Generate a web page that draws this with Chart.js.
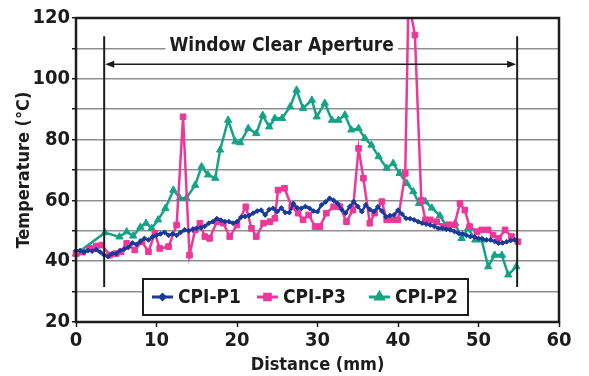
<!DOCTYPE html>
<html>
<head>
<meta charset="utf-8">
<script src="https://cdn.jsdelivr.net/npm/chart.js@4.4.0/dist/chart.umd.min.js"></script>
<style>
  html, body { margin: 0; padding: 0; background: #fff; }
</style>
</head>
<body>
<canvas id="chart" width="589" height="376"></canvas>
<script>
// CPI-P1: dense trace, read every 0.5 mm
const p1Distance = [
  0, 0.5, 1, 1.5, 2, 2.5, 3, 3.5, 4, 4.5, 5, 5.5, 6, 6.5, 7, 7.5, 8, 8.5, 9, 9.5,
  10, 10.5, 11, 11.5, 12, 12.5, 13, 13.5, 14, 14.5, 15, 15.5, 16, 16.5, 17, 17.5, 18, 18.5, 19, 19.5,
  20, 20.5, 21, 21.5, 22, 22.5, 23, 23.5, 24, 24.5, 25, 25.5, 26, 26.5, 27, 27.5, 28, 28.5, 29, 29.5,
  30, 30.5, 31, 31.5, 32, 32.5, 33, 33.5, 34, 34.5, 35, 35.5, 36, 36.5, 37, 37.5, 38, 38.5, 39, 39.5,
  40, 40.5, 41, 41.5, 42, 42.5, 43, 43.5, 44, 44.5, 45, 45.5, 46, 46.5, 47, 47.5, 48, 48.5, 49, 49.5,
  50, 50.5, 51, 51.5, 52, 52.5, 53, 53.5, 54, 54.5,
];
const p1Temp = [
  43.5, 43.5, 43, 43.5, 43.3, 43.8, 43, 42, 41.5, 42.5, 42.5, 43.5, 44, 44.5, 46, 45.5, 46.5, 47.5, 47, 48,
  48.5, 49, 49.5, 48.5, 49, 48.5, 49.5, 50.3, 50, 50.5, 50.8, 51, 51.5, 52.5, 53, 54, 53.5, 53, 53, 52.5,
  53, 54.5, 54.7, 55, 55.8, 56.5, 56.8, 55.2, 57, 57.4, 56.3, 57.5, 56, 56, 59, 57.5, 57.4, 58, 57.4, 56.5,
  56.3, 58.5, 59.5, 60.7, 60, 59, 57, 55.8, 58, 59.6, 58, 56.3, 58.5, 57, 56.3, 57.9, 56.5, 54.6, 55, 55.2,
  56.8, 55.5, 54.1, 54, 53.6, 53, 52.5, 52.2, 51.9, 51.5, 50.8, 50.8, 50.5, 50.3, 49.8, 49.2, 49, 48.5, 48.1, 48,
  47.5, 47.3, 47, 47, 46.5, 45.9, 46, 46.4, 46.8, 47,
];

// CPI-P3
const p3Distance = [
  0, 0.8, 1.7, 2.5, 3.2, 4.2, 5.0, 5.6, 6.3, 7.3, 8.2, 9.0, 9.8, 10.4, 11.5, 12.5, 13.3, 14.1, 14.8, 15.4,
  16.0, 16.6, 17.5, 18.3, 19.1, 20.0, 21.1, 21.8, 22.4, 23.3, 24.1, 24.7, 25.1, 25.9, 26.8, 27.6, 28.2, 28.9, 29.7, 30.3,
  31.1, 32.0, 32.8, 33.6, 34.4, 35.1, 35.7, 36.5, 37.1, 38.0, 38.6, 39.4, 40.0, 40.9, 41.3, 42.1, 42.9, 43.4, 44.0, 44.8,
  45.6, 46.3, 47.0, 47.7, 48.3, 48.9, 49.8, 50.4, 51.2, 51.8, 52.5, 53.3, 54.1, 54.9,
];
const p3Temp = [
  42.5, 43, 44.2, 45, 45.3, 42, 42.5, 43.1, 45.9, 43.7, 46.4, 43.1, 49.2, 44.2, 44.8, 51.9, 87.5, 42, 50.3, 52.5,
  48.1, 47.5, 53, 52.5, 48.1, 51.9, 57.9, 50.8, 48.1, 52.5, 53, 54.1, 63.4, 64, 57.9, 55.8, 53.6, 55.2, 51.4, 51.4,
  55.8, 57.9, 57.9, 53, 56.8, 77.1, 67.3, 52.5, 55.8, 59.6, 53.6, 53.6, 53.6, 68.9, 126, 114.4, 60, 53.6, 53.6, 53,
  51.4, 52, 51.9, 59, 56.8, 51.4, 49.7, 50.3, 50.3, 48.6, 47.5, 50.3, 48.1, 46.4,
];

// CPI-P2
const p2Distance = [
  0, 3.6, 5.4, 6.3, 7.1, 8.0, 8.7, 9.4, 10.2, 11.1, 12.1, 12.9, 13.7, 14.8, 15.6, 16.4, 17.3, 17.9, 18.9, 19.8,
  20.4, 21.4, 22.4, 23.2, 24.0, 24.7, 25.6, 26.6, 27.4, 28.2, 29.3, 29.9, 30.9, 31.8, 32.6, 33.4, 34.2, 35.1, 35.9, 36.7,
  37.6, 38.6, 39.4, 40.2, 41.1, 41.9, 42.6, 43.4, 44.2, 45.2, 46.2, 47.1, 47.9, 48.7, 49.6, 50.4, 51.2, 52.0, 52.9, 53.7,
  54.7,
];
const p2Temp = [
  42.4, 49.4, 48, 49.7, 48.3, 51.2, 52.5, 50.8, 53.6, 57.4, 63.4, 60.7, 60.7, 65, 71.1, 68.4, 67.3, 76.6, 86.4, 79.3,
  79, 83.7, 82, 88, 84.2, 87, 87, 90.8, 96.3, 90.3, 93, 87.5, 92, 86.4, 86.4, 88.1, 83.2, 83.7, 80.4, 78.2,
  74.4, 70.6, 72.2, 68.9, 65.6, 62.9, 59, 59.6, 57.5, 55, 50.8, 52.5, 47.5, 50.8, 47, 47, 38.2, 42, 42, 35.5,
  38.2,
];

const xTicks = [0, 10, 20, 30, 40, 50, 60];
const yLabelTicks = [20, 40, 60, 80, 100, 120];

// window clear aperture annotation (mm / degC)
const apertureEdges = [3.5, 54.8];
const apertureSpan = [31.5, 114];
const apertureArrowLevel = 104.8;
const apertureLabelLevel = 111.2;

const FONT = "'Liberation Sans Narrow', 'DejaVu Sans Condensed', 'Arial Narrow', sans-serif";
const INK = "#1c1c1c";
const BLUE = "#173a9b";
const PINK = "#ec3899";
const GREEN = "#15a386";

function toPoints(xs, ys) {
  return xs.map((x, i) => ({ x, y: ys[i] }));
}

const series = [
  { label: "CPI-P1", data: toPoints(p1Distance, p1Temp), color: BLUE, style: "rectRot", radius: 2.4 },
  { label: "CPI-P3", data: toPoints(p3Distance, p3Temp), color: PINK, style: "rect", radius: 4 },
  { label: "CPI-P2", data: toPoints(p2Distance, p2Temp), color: GREEN, style: "triangle", radius: 4.2 },
];

function drawArrowHead(ctx, x, y, dir) {
  ctx.beginPath();
  ctx.moveTo(x, y);
  ctx.lineTo(x - dir * 9, y - 3.5);
  ctx.lineTo(x - dir * 9, y + 3.5);
  ctx.closePath();
  ctx.fill();
}

const overlayPlugin = {
  id: "overlay",
  afterDatasetsDraw(chart) {
    const { ctx, chartArea, scales } = chart;
    const xs = scales.x;
    const ys = scales.y;
    ctx.save();

    // aperture edges
    ctx.strokeStyle = INK;
    ctx.lineWidth = 2;
    apertureEdges.forEach((edge) => {
      const px = xs.getPixelForValue(edge);
      ctx.beginPath();
      ctx.moveTo(px, ys.getPixelForValue(apertureSpan[1]));
      ctx.lineTo(px, ys.getPixelForValue(apertureSpan[0]));
      ctx.stroke();
    });

    // double arrow
    const left = xs.getPixelForValue(apertureEdges[0]);
    const right = xs.getPixelForValue(apertureEdges[1]);
    const ay = ys.getPixelForValue(apertureArrowLevel);
    ctx.lineWidth = 1.5;
    ctx.fillStyle = INK;
    ctx.beginPath();
    ctx.moveTo(left + 4, ay);
    ctx.lineTo(right - 4, ay);
    ctx.stroke();
    drawArrowHead(ctx, left + 1, ay, -1);
    drawArrowHead(ctx, right - 1, ay, 1);

    // label with white backing over the grid line
    const label = "Window Clear Aperture";
    ctx.font = "bold 19px " + FONT;
    ctx.textAlign = "center";
    ctx.textBaseline = "middle";
    const lx = (left + right) / 2 - 29;
    const ly = ys.getPixelForValue(apertureLabelLevel);
    const w = ctx.measureText(label).width;
    ctx.fillStyle = "#fff";
    ctx.fillRect(lx - w / 2 - 4, ly - 9, w + 8, 18);
    ctx.fillStyle = INK;
    ctx.fillText(label, lx, ly + 1);

    // frame
    ctx.strokeStyle = INK;
    ctx.lineWidth = 2.5;
    ctx.strokeRect(chartArea.left, chartArea.top, chartArea.right - chartArea.left, chartArea.bottom - chartArea.top);

    // legend box
    const box = { left: 143, top: 279, width: 325, height: 36 };
    ctx.fillStyle = "#fff";
    ctx.fillRect(box.left, box.top, box.width, box.height);
    ctx.lineWidth = 2;
    ctx.strokeRect(box.left, box.top, box.width, box.height);
    const cy = box.top + box.height / 2;
    const starts = [152, 257, 369];
    ctx.font = "bold 19px " + FONT;
    ctx.textAlign = "left";
    series.forEach((s, i) => {
      const x0 = starts[i];
      ctx.strokeStyle = s.color;
      ctx.lineWidth = 3;
      ctx.beginPath();
      ctx.moveTo(x0, cy);
      ctx.lineTo(x0 + 21, cy);
      ctx.stroke();
      Chart.helpers.drawPoint(ctx, {
        pointStyle: s.style,
        radius: s.radius,
        rotation: 0,
        borderWidth: 1,
      }, x0 + 10.5, cy);
      ctx.fillStyle = s.color;
      ctx.fill();
      ctx.fillStyle = INK;
      ctx.fillText(s.label, x0 + 26, cy + 1);
    });

    ctx.restore();
  },
};

new Chart(document.getElementById("chart"), {
  type: "line",
  data: {
    datasets: series.map((s) => ({
      label: s.label,
      data: s.data,
      borderColor: s.color,
      backgroundColor: s.color,
      borderWidth: 2.5,
      pointStyle: s.style,
      pointRadius: s.radius,
      pointBorderWidth: 1,
      pointBackgroundColor: s.color,
      pointBorderColor: s.color,
      tension: 0,
      fill: false,
      clip: { left: 10, right: 10, top: 0, bottom: 10 },
    })),
  },
  options: {
    responsive: false,
    animation: false,
    devicePixelRatio: 1,
    layout: { padding: { left: 0, right: 30, top: 18, bottom: 0 } },
    plugins: {
      legend: { display: false },
      tooltip: { enabled: false },
    },
    scales: {
      x: {
        type: "linear",
        min: 0,
        max: 60,
        afterBuildTicks: (scale) => {
          scale.ticks = xTicks.map((value) => ({ value }));
        },
        ticks: {
          color: INK,
          padding: 2,
          maxRotation: 0,
          font: { family: FONT, size: 20, weight: "bold" },
        },
        grid: {
          drawOnChartArea: false,
          tickLength: 5,
          tickColor: INK,
          tickWidth: 1.5,
        },
        border: { display: false },
        title: {
          display: true,
          text: "Distance (mm)",
          color: INK,
          font: { family: FONT, size: 18, weight: "bold" },
          padding: { top: 0, bottom: 0 },
        },
        afterFit: (scale) => {
          scale.height = 54;
        },
      },
      y: {
        min: 20,
        max: 120,
        ticks: {
          stepSize: 10,
          color: INK,
          padding: 2,
          font: { family: FONT, size: 20, weight: "bold" },
          callback: (value) => (yLabelTicks.includes(value) ? String(value) : ""),
        },
        grid: {
          color: "#8f8f8f",
          lineWidth: 1.5,
          tickLength: 4,
          tickColor: INK,
        },
        border: { display: false },
        title: {
          display: true,
          text: "Temperature (°C)",
          color: INK,
          font: { family: FONT, size: 18, weight: "bold" },
          padding: { top: 14, bottom: 0 },
        },
        afterFit: (scale) => {
          scale.width = 76;
        },
      },
    },
  },
  plugins: [overlayPlugin],
});
</script>
</body>
</html>
